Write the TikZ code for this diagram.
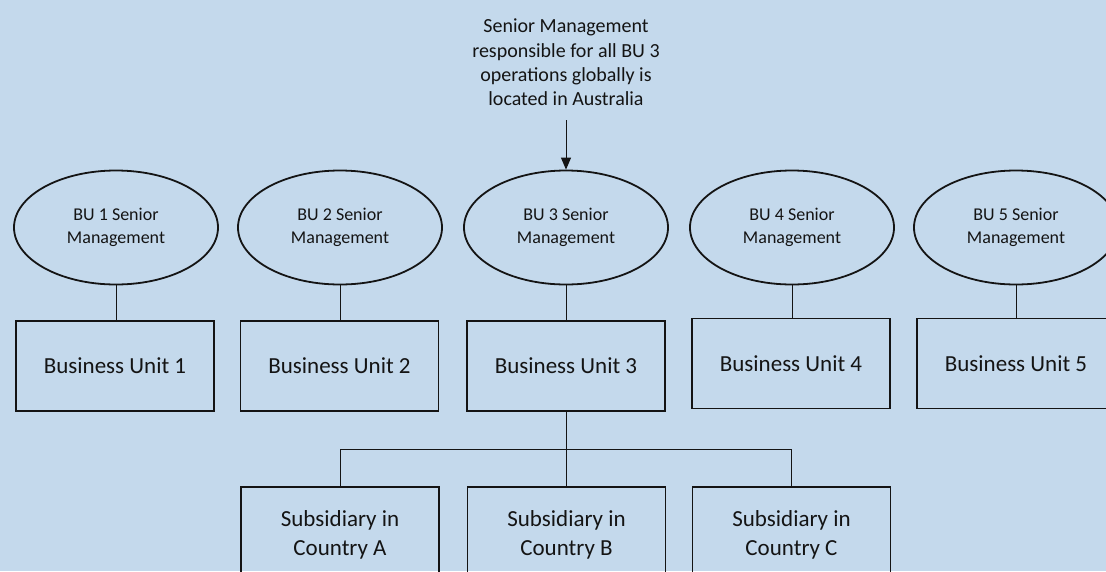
\documentclass[tikz,border=0pt]{standalone}
\usepackage{fontspec}
\setmainfont{Carlito}
\usetikzlibrary{shapes.geometric,arrows.meta,calc}
\definecolor{bg}{RGB}{196,217,236}
\definecolor{ink}{RGB}{20,20,20}
\begin{document}
\begin{tikzpicture}[x=1pt,y=-1pt,
  oval/.style={ellipse,draw=ink,line width=1.8pt,minimum width=204pt,minimum height=114pt,inner sep=0pt,align=center,font=\fontsize{18}{22.5}\selectfont,text=ink},
  unitbox/.style={rectangle,draw=ink,line width=1.8pt,minimum width=198pt,minimum height=90pt,inner sep=0pt,align=center,font=\fontsize{23}{28.5}\selectfont,text=ink},
  link/.style={draw=ink,line width=1pt}]
\path[use as bounding box,fill=bg] (0,0) rectangle (1106,571);
\clip (0,0) rectangle (1106,571);
\node[align=center,font=\fontsize{20}{24.4}\selectfont,text=ink] (note) at (566,62.5) {Senior Management\\responsible for all BU 3\\operations globally is\\located in Australia};
\node[oval] (e1) at (116,227.5) {BU 1 Senior\\Management};
\node[oval] (e2) at (340,227.5) {BU 2 Senior\\Management};
\node[oval] (e3) at (566,227.5) {BU 3 Senior\\Management};
\node[oval] (e4) at (792,227.5) {BU 4 Senior\\Management};
\node[oval] (e5) at (1016,227.5) {BU 5 Senior\\Management};
\node[unitbox] (b1) at (115,366) {Business Unit 1};
\node[unitbox] (b2) at (339.5,366) {Business Unit 2};
\node[unitbox] (b3) at (566,366) {Business Unit 3};
\node[unitbox] (b4) at (791,363.5) {Business Unit 4};
\node[unitbox] (b5) at (1016,363.5) {Business Unit 5};
\node[unitbox,minimum height=96pt] (sA) at (340,535) {Subsidiary in\\Country A};
\node[unitbox,minimum height=96pt] (sB) at (566.5,535) {Subsidiary in\\Country B};
\node[unitbox,minimum height=96pt] (sC) at (791.5,535) {Subsidiary in\\Country C};
\coordinate (src) at (566,120);
\draw[link,-{Triangle[length=12pt,width=10pt]}] (src) -- (e3.north);
\foreach \i in {1,...,5}{\draw[link] (e\i.south) -- (e\i.south |- b\i.north);}
\coordinate (j) at ($(b3.south)!0.5!(sB.north)$);
\draw[link] (b3.south) -- (b3.south |- sB.north);
\draw[link] (sA.north) -- (sA.north |- j) -- (sC.north |- j) -- (sC.north);
\end{tikzpicture}
\end{document}
